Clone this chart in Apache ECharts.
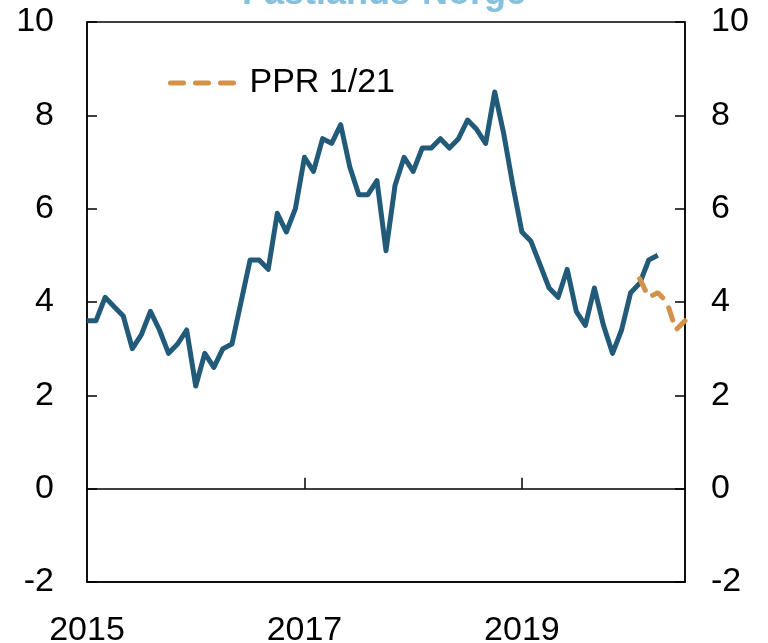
<!DOCTYPE html>
<html>
<head>
<meta charset="utf-8">
<style>
  html, body { margin: 0; padding: 0; background: #fff; }
  #chart { width: 768px; height: 643px; }
</style>
<script src="https://cdn.jsdelivr.net/npm/echarts@6/dist/echarts.min.js"></script>
</head>
<body>
<div id="chart"></div>
<script>
  // monthly, index 0 = jan 2015
  const startYear = 2015
  const yearTicks = [2015, 2017, 2019]
  const actual = [
    3.6, 3.6, 4.1, 3.9, 3.7, 3.0, 3.3, 3.8, 3.4, 2.9, 3.1, 3.4,
    2.2, 2.9, 2.6, 3.0, 3.1, 4.0, 4.9, 4.9, 4.7, 5.9, 5.5, 6.0,
    7.1, 6.8, 7.5, 7.4, 7.8, 6.9, 6.3, 6.3, 6.6, 5.1, 6.5, 7.1,
    6.8, 7.3, 7.3, 7.5, 7.3, 7.5, 7.9, 7.7, 7.4, 8.5, 7.6, 6.5,
    5.5, 5.3, 4.8, 4.3, 4.1, 4.7, 3.8, 3.5, 4.3, 3.5, 2.9, 3.4,
    4.2, 4.4, 4.9, 5.0
  ]
  const pprStart = 61
  const ppr = [4.5, 4.1, 4.2, 4.0, 3.4, 3.6]
  const yTicks = [-2, 0, 2, 4, 6, 8, 10]

  const actualData = actual.map((v, i) => [i, v])
  const pprData = ppr.map((v, i) => [pprStart + i, v])

  const blue = '#225a7a'
  const orange = '#d4914a'
  const font = 'Liberation Sans, Arial, sans-serif'
  const dash = [13, 12]

  let chart = echarts.init(document.getElementById('chart'))
  let option = {
    animation: false,
    graphic: [{
      type: 'text',
      left: 'center',
      top: -24,
      style: {
        text: 'Fastlands-Norge',
        fill: '#86c0dc',
        font: 'bold 36px ' + font
      }
    }],
    grid: {
      left: 87,
      right: 83,
      top: 22,
      bottom: 61,
      outerBoundsMode: 'none',
      show: true,
      borderColor: '#000',
      borderWidth: 1.5
    },
    legend: {
      data: ['PPR 1/21'],
      left: 163,
      top: 61,
      itemWidth: 65,
      itemHeight: 14,
      itemStyle: { opacity: 0 },
      lineStyle: { color: orange, width: 5, type: dash, cap: 'round' },
      textStyle: { fontSize: 34, fontFamily: font, color: '#000', padding: [0, 0, 0, 9] }
    },
    xAxis: [
      {
        type: 'value',
        min: 0,
        max: 66,
        interval: 24,
        position: 'bottom',
        axisLine: { onZero: false, lineStyle: { color: '#000', width: 1.5 } },
        axisTick: { show: false },
        splitLine: { show: false },
        axisLabel: {
          fontSize: 34,
          fontFamily: font,
          color: '#000',
          margin: 32,
          formatter: v => {
            let y = startYear + v / 12
            return yearTicks.includes(y) ? String(y) : ''
          }
        }
      },
      {
        type: 'value',
        min: 0,
        max: 66,
        interval: 24,
        position: 'top',
        axisLine: { onZero: true, lineStyle: { color: '#000', width: 1.5 } },
        axisTick: {
          show: true,
          length: 11,
          lineStyle: { color: '#000', width: 1.5 },
          // no tick on the edges
          customValues: [24, 48]
        },
        axisLabel: { show: false },
        splitLine: { show: false }
      }
    ],
    yAxis: [
      {
        type: 'value',
        min: -2,
        max: 10,
        interval: 2,
        position: 'left',
        axisLine: { show: true, onZero: false, lineStyle: { color: '#000', width: 1.5 } },
        axisTick: { show: true, inside: true, length: 10, lineStyle: { color: '#000', width: 1.5 } },
        splitLine: { show: false },
        axisLabel: { fontSize: 34, fontFamily: font, color: '#000', margin: 33, customValues: yTicks }
      },
      {
        type: 'value',
        min: -2,
        max: 10,
        interval: 2,
        position: 'right',
        axisLine: { show: true, onZero: false, lineStyle: { color: '#000', width: 1.5 } },
        axisTick: { show: true, inside: true, length: 10, lineStyle: { color: '#000', width: 1.5 } },
        splitLine: { show: false },
        axisLabel: { fontSize: 34, fontFamily: font, color: '#000', margin: 26 }
      }
    ],
    series: [
      {
        name: 'Fastlands-Norge',
        type: 'line',
        xAxisIndex: 0,
        yAxisIndex: 0,
        data: actualData,
        symbol: 'none',
        lineStyle: { color: blue, width: 5, join: 'round' },
        itemStyle: { color: blue },
        z: 3
      },
      {
        name: 'PPR 1/21',
        type: 'line',
        xAxisIndex: 0,
        yAxisIndex: 0,
        data: pprData,
        symbol: 'none',
        lineStyle: { color: orange, width: 5, type: dash, cap: 'round' },
        itemStyle: { color: orange },
        z: 4
      }
    ]
  }
  chart.setOption(option)
</script>
</body>
</html>
